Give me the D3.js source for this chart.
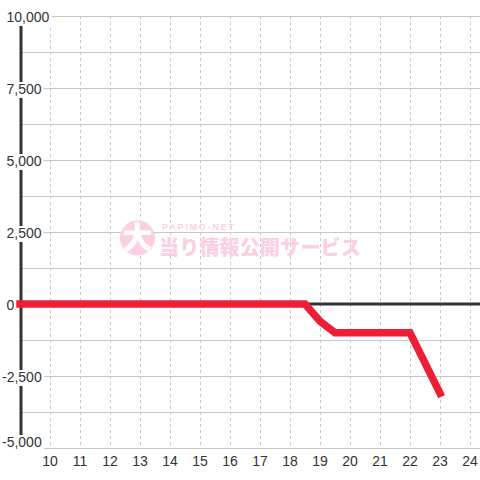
<!DOCTYPE html>
<html><head><meta charset="utf-8">
<script src="https://cdn.jsdelivr.net/npm/d3@7"></script>
<style>html,body{margin:0;padding:0;background:#fff;}svg{display:block;}</style>
</head><body>
<script>
const hours = [9, 18.5, 19, 19.5, 22, 23];
const values = [0, 0, -600, -1000, -1000, -3100];
const xTicks = [10,11,12,13,14,15,16,17,18,19,20,21,22,23,24];
const yTicks = [10000, 7500, 5000, 2500, 0, -2500, -5000];
const yMinor = [8750, 6250, 3750, 1250, -1250, -3750];

const W = 480, H = 480;
const svg = d3.select("body").append("svg").attr("width", W).attr("height", H);
const x = d3.scaleLinear().domain([10, 24]).range([50, 470]);
const y = d3.scaleLinear().domain([-5000, 10000]).range([448, 16]);
const left = 20, right = 480;
const font = "'Liberation Sans', Arial, sans-serif";

// vertical dashed grid
svg.append("g").selectAll("line").data(xTicks).join("line")
  .attr("x1", d => Math.round(x(d)) + 0.5).attr("x2", d => Math.round(x(d)) + 0.5)
  .attr("y1", y(10000)).attr("y2", y(-5000))
  .attr("stroke", "#c8c8c8").attr("stroke-width", 1).attr("stroke-dasharray", "3,3");

// horizontal grid
svg.append("g").selectAll("line").data(yTicks.concat(yMinor)).join("line")
  .attr("x1", left).attr("x2", right)
  .attr("y1", d => Math.round(y(d)) + 0.5).attr("y2", d => Math.round(y(d)) + 0.5)
  .attr("stroke", "#c8c8c8").attr("stroke-width", 1.2);

// watermark
const wm = svg.append("g");
const pink = "#fbd0e3";
wm.append("circle").attr("cx", 137.5).attr("cy", 238).attr("r", 17.5).attr("fill", pink);
wm.append("text").attr("x", 137.5).attr("y", 248).attr("text-anchor", "middle")
  .attr("font-family", "'Noto Sans CJK JP', sans-serif").attr("font-weight", 900)
  .attr("font-size", 30).attr("fill", "#ffffff").text("大");
wm.append("text").attr("x", 162).attr("y", 230)
  .attr("font-family", font).attr("font-weight", "bold").attr("font-size", 9)
  .attr("letter-spacing", 1.8).attr("fill", pink).text("PAPIMO-NET");
wm.append("text").attr("x", 159).attr("y", 255)
  .attr("font-family", "'Noto Sans CJK JP', sans-serif").attr("font-weight", 900)
  .attr("font-size", 20).attr("letter-spacing", 0.2).attr("fill", pink).text("当り情報公開サービス");

// dark y axis line
svg.append("line").attr("x1", 21).attr("x2", 21).attr("y1", y(10000)).attr("y2", y(-5000))
  .attr("stroke", "#333").attr("stroke-width", 3);

// zero line
svg.append("line").attr("x1", left).attr("x2", right).attr("y1", y(0)).attr("y2", y(0))
  .attr("stroke", "#333").attr("stroke-width", 3);

// y labels with background
const fmt = d3.format(",");
const yl = svg.append("g").selectAll("g").data(yTicks).join("g");
const yt = yl.append("text")
  .attr("x", d => d < 0 ? 2 : 6.5)
  .attr("y", (d, i) => y(d) + 6 - (i === yTicks.length - 1 ? 7 : 0))
  .attr("font-family", font).attr("font-size", 14).attr("fill", "#333")
  .text(d => fmt(d).replace("−", "-"));
yl.each(function() {
  const t = d3.select(this).select("text");
  const b = t.node().getBBox();
  d3.select(this).insert("rect", "text").attr("x", b.x).attr("y", b.y + 1)
    .attr("width", b.width + 2).attr("height", b.height).attr("fill", "#fff");
});

// data line
const line = d3.line().x((d, i) => x(hours[i])).y(d => y(d));
svg.append("path").datum(values).attr("d", line)
  .attr("fill", "none").attr("stroke", "#ec1f36").attr("stroke-width", 7.5)
  .attr("stroke-linecap", "square").attr("stroke-linejoin", "miter");

// x labels
svg.append("g").selectAll("text").data(xTicks).join("text")
  .attr("x", d => x(d)).attr("y", 466).attr("text-anchor", "middle")
  .attr("font-family", font).attr("font-size", 14).attr("fill", "#333")
  .text(d => d);
</script>
</body></html>
